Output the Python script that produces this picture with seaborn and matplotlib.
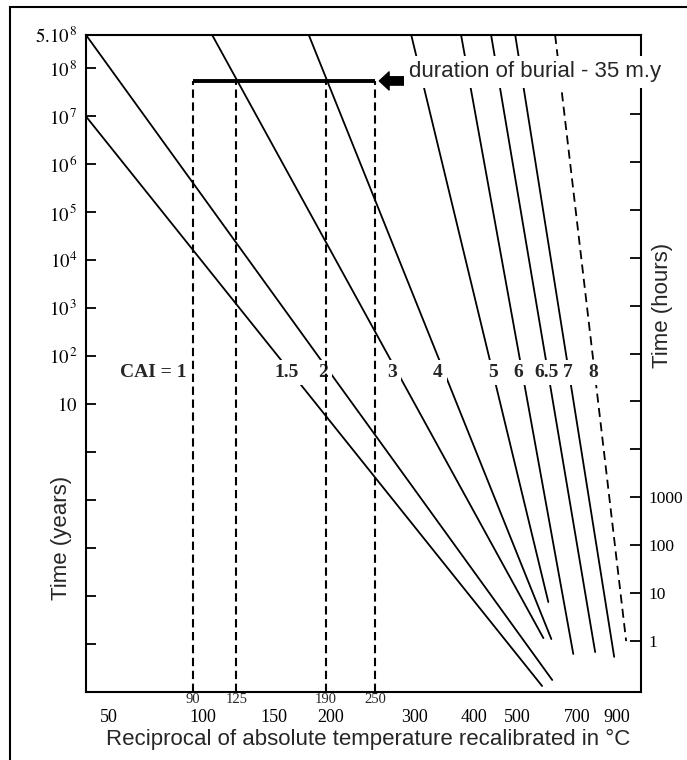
import matplotlib
matplotlib.use('Agg')
import matplotlib.pyplot as plt
import numpy as np
import pandas as pd
import seaborn as sns
from matplotlib.patches import Rectangle
from matplotlib.ticker import NullLocator

# CAI isolines: both ends of each line
# temperature in deg C, time in years
cai_names = ['1.5', '2', '3', '4', '5', '6', '6.5', '7', '8']
temp_top = [40, 40, 106, 179, 295, 376, 437, 495, 615]
years_top = [1e7, 5e8, 5e8, 5e8, 5e8, 5e8, 5e8, 5e8, 5e8]
temp_bottom = [572, 605, 576, 602, 592, 683, 780, 882, 957]
years_bottom = [1.33e-5, 1.78e-5, 1.33e-4, 1.27e-4, 7.5e-4, 6.2e-5, 6.8e-5, 5.4e-5, 1.15e-4]
line_kind = ['solid'] * 8 + ['dashed']

# labels written across the lines
label_names = ['CAI = 1', '1.5', '2', '3', '4', '5', '6', '6.5', '7', '8']
label_temp = [72, 160, 192, 269, 336, 442, 503, 585, 663, 771]
label_years = 45

# burial window (35 m.y.)
burial_years = 5.5e7
window_temp = [94, 122, 195, 248]
window_names = ['90', '125', '190', '250']
arrow_temp = [253, 285]
note_temp = 292
note_years = 6.5e7

# axis ticks
temp_ticks = list(range(50, 1000, 50))
temp_named = [50, 100, 150, 200, 300, 400, 500, 700, 900]
year_ticks = [5e8, 1e8, 1e7, 1e6, 1e5, 1e4, 1e3, 1e2, 10, 1, 0.1, 0.01, 1e-3, 1e-4]
year_names = [r'$5.10^{\,8}$', r'$10^{\,8}$', r'$10^{\,7}$', r'$10^{\,6}$', r'$10^{\,5}$',
              r'$10^{4}$', r'$10^{\,3}$', r'$10^{\,2}$', r'$10$', '', '', '', '', '']
hour_ticks = [1, 10, 100, 1000, 1e4, 1e5, 1e6, 1e7, 1e8, 1e9, 1e10, 1e11]
hour_names = ['1', '10', '100', '1000'] + [''] * 8
HOURS_PER_YEAR = 8766

sns.set_style('white')
plt.rcParams['font.family'] = ['Liberation Sans', 'DejaVu Sans']
plt.rcParams['mathtext.fontset'] = 'stix'

# reciprocal absolute temperature scale, labelled in deg C
def recip(t):
    with np.errstate(divide='ignore', invalid='ignore'):
        return -1000.0 / (np.asarray(t, dtype=float) + 273.15)

def recip_inv(v):
    with np.errstate(divide='ignore', invalid='ignore'):
        return -1000.0 / np.asarray(v, dtype=float) - 273.15

df = pd.DataFrame({
    'cai': np.repeat(cai_names, 2),
    'temp': np.ravel(np.column_stack([temp_top, temp_bottom])),
    'years': np.ravel(np.column_stack([years_top, years_bottom])),
    'kind': np.repeat(line_kind, 2),
})

fig = plt.figure(figsize=(6.87, 7.6), dpi=100)
ax = fig.add_axes([0.1252, 0.0895, 0.8079, 0.8645])

sns.lineplot(data=df, x='temp', y='years', units='cai', estimator=None, style='kind',
             dashes={'solid': '', 'dashed': (5, 3)}, color='black', lw=1.3,
             sort=False, legend=False, ax=ax, zorder=2)

ax.set_xscale('function', functions=(recip, recip_inv))
ax.set_yscale('log')
ax.set_xlim(40, 1065)
ax.set_ylim(1e-5, 5e8)

# burial window
ax.hlines(burial_years, window_temp[0], window_temp[-1], color='black', lw=2.8, zorder=4)
ax.vlines(window_temp, 1e-5, burial_years, color='black', lw=1.5,
          linestyles=(0, (4, 2.2)), zorder=4)
for t, s in zip(window_temp, window_names):
    ax.text(t, -0.011, s, transform=ax.get_xaxis_transform(), ha='center', va='center',
            fontsize=10.5, family='Liberation Serif', clip_on=False)

ax.annotate('', xy=(arrow_temp[0], burial_years), xytext=(arrow_temp[1], burial_years),
            arrowprops=dict(facecolor='black', edgecolor='black', width=6,
                            headwidth=13, headlength=7, shrink=0))

# line labels
for t, s in zip(label_temp, label_names):
    ax.text(t, label_years, s, ha='center', va='center', fontsize=14,
            family='Liberation Serif', fontweight='bold', zorder=3,
            bbox=dict(boxstyle='square,pad=0.2', fc='white', ec='none'))

# axes styling
for s in ax.spines.values():
    s.set_linewidth(1.5)
    s.set_color('black')

ax.set_xticks(temp_ticks)
ax.set_xticklabels([str(t) if t in temp_named else '' for t in temp_ticks],
                   fontsize=13, family='Liberation Serif')
ax.set_yticks(year_ticks)
ax.set_yticklabels(year_names, fontsize=13.5)
ax.xaxis.set_minor_locator(NullLocator())
ax.yaxis.set_minor_locator(NullLocator())
ax.tick_params(axis='x', direction='in', length=5, width=1.3, pad=12, colors='black')
ax.tick_params(axis='y', direction='in', length=7, width=1.3, pad=6, colors='black')

ax.set_xlabel('Reciprocal of absolute temperature recalibrated in \u00b0C', fontsize=16)
ax.xaxis.set_label_coords(0.509, -0.056)
ax.set_ylabel('Time (years)', fontsize=16)
ax.yaxis.set_label_coords(-0.025, 0.235)

# right axis in hours
ax2 = ax.twinx()
ax2.set_yscale('log')
ax2.set_ylim(1e-5 * HOURS_PER_YEAR, 5e8 * HOURS_PER_YEAR)
ax2.set_yticks(hour_ticks)
ax2.set_yticklabels(hour_names, fontsize=12.5, family='Liberation Serif')
ax2.yaxis.set_minor_locator(NullLocator())
ax2.tick_params(axis='y', direction='in', length=8, width=1.3, pad=5, colors='black')
for s in ax2.spines.values():
    s.set_visible(False)
ax2.set_ylabel('Time (hours)', fontsize=16)
ax2.yaxis.set_label_coords(1.02, 0.589)

ax2.text(note_temp, note_years, 'duration of burial - 35 m.y', transform=ax.transData,
         ha='left', va='baseline', fontsize=16, zorder=5, clip_on=False,
         bbox=dict(boxstyle='square,pad=0.25', fc='white', ec='none'))

# frame around the figure
fig.patches.append(Rectangle((10 / 687, -0.1), 2, 1.1 - 7 / 760, transform=fig.transFigure,
                             fill=False, ec='black', lw=1.5, clip_on=False))

fig.savefig('out.png', dpi=100, facecolor='white')
